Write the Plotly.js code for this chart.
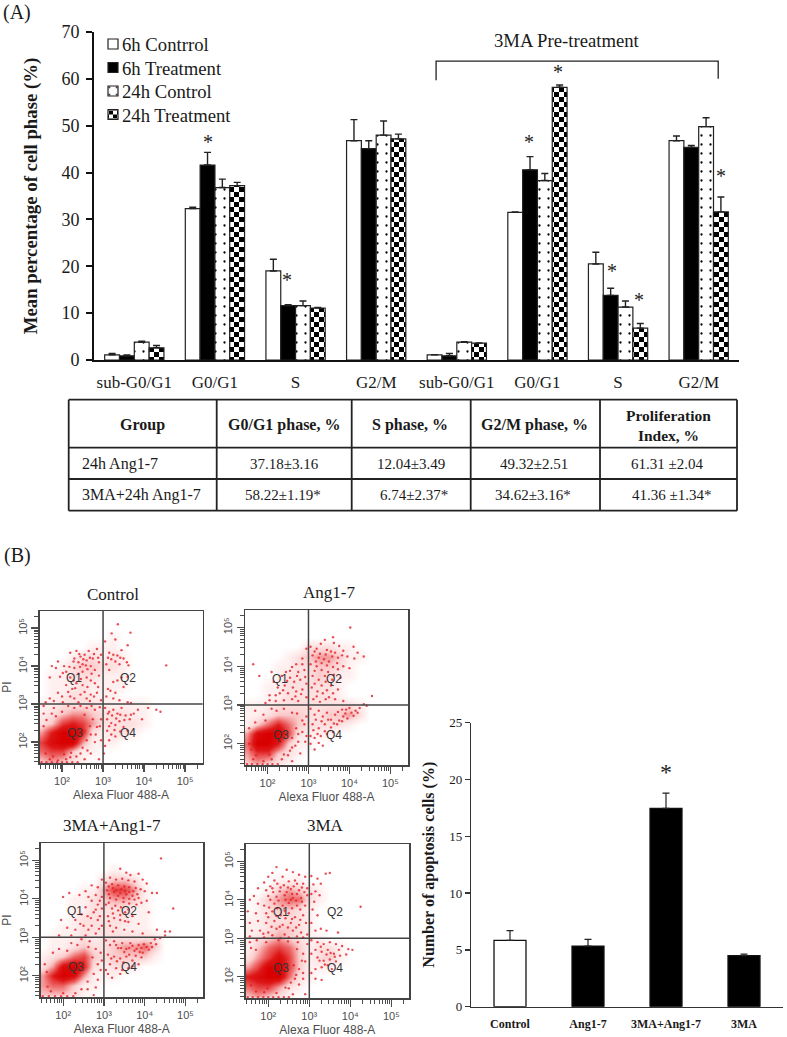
<!DOCTYPE html>
<html><head><meta charset="utf-8">
<script src="https://cdn.plot.ly/plotly-3.0.1.min.js"></script>
<style>html,body{margin:0;padding:0;background:#fff}</style></head>
<body><div id="fig" style="width:787px;height:1037px"></div>
<script>
// ---------- Panel A data ----------
const phaseLabels = ['sub-G0/G1','G0/G1','S','G2/M','sub-G0/G1','G0/G1','S','G2/M'];
const phaseIdx = [0,1,2,3,4,5,6,7];
const seriesNames = ['6h Contrrol','6h Treatment','24h Control','24h Treatment'];
const ctl6  = [1.1,32.3,19.0,46.8,1.1,31.5,20.5,46.8];
const trt6  = [0.9,41.6,11.6,45.1,0.9,40.6,13.8,45.4];
const ctl24 = [3.8,36.8,11.6,48.0,3.8,38.3,11.3,49.8];
const trt24 = [2.6,37.2,11.1,47.2,3.6,58.2,6.8,31.6];
const errCtl6  = [0.3,0.3,2.5,4.5,0.05,0.1,2.5,1.0];
const errTrt6  = [0.2,2.7,0.2,1.7,0.5,2.8,1.5,0.4];
const errCtl24 = [0.2,1.8,1.0,3.0,0.1,1.5,1.3,1.9];
const errTrt24 = [0.5,0.7,0.1,1.0,0.05,0.5,1.0,3.2];
const starX = [0.914,1.894,4.897,5.257,5.927,6.262,7.28];
const starY = [47.1,17.7,47.1,62.0,19.6,13.4,39.9];
const bracketX = [3.743,3.743,7.242,7.242];
const bracketY = [59.7,63.8,63.8,60.0];
// ---------- Table ----------
const tableHead = ['Group','G0/G1 phase, %','S phase, %','G2/M phase, %','Proliferation<br>Index, %'];
const colGroup = ['24h Ang1-7','3MA+24h Ang1-7'];
const colG0 = ['37.18±3.16','58.22±1.19*'];
const colS = ['12.04±3.49','6.74±2.37*'];
const colG2 = ['49.32±2.51','34.62±3.16*'];
const colProlif = ['61.31 ±2.04','41.36 ±1.34*'];
// ---------- Panel B bars ----------
const apoLabels = ['Control','Ang1-7','3MA+Ang1-7','3MA'];
const apoVals = [5.84,5.34,17.46,4.5];
const apoErr = [0.86,0.59,1.34,0.12];
const apoFill = ['#ffffff','#000000','#000000','#000000'];
// ---------- Flow cytometry (log10 units) ----------
const gridX = [1.5,1.75,2,2.25,2.5,2.75,3,3.25,3.5,3.75,4,4.25,4.5];
const gridY = [1.5,1.75,2,2.25,2.5,2.75,3,3.25,3.5,3.75,4,4.25,4.5,4.75,5];
const densCtrl = [[3,4,3,2,1,0,0,0,0,0,0,0,0],[5,6,6,3,1,1,0,0,0,0,0,0,0],[6,8,9,9,4,1,1,1,0,0,0,0,0],[4,7,9,9,7,2,1,2,2,1,0,0,0],[2,3,6,7,6,4,2,2,2,2,1,0,0],[1,2,3,4,4,3,2,2,2,1,1,0,0],[1,1,2,2,2,2,1,1,1,1,1,0,0],[0,1,1,2,2,1,1,1,0,0,0,0,0],[0,1,1,1,2,1,1,1,1,0,0,0,0],[0,1,1,2,2,2,1,1,1,0,0,0,0],[0,0,1,2,3,3,2,2,1,0,0,0,0],[0,0,0,1,2,2,1,2,1,0,0,0,0],[0,0,0,0,0,1,1,1,0,0,0,0,0],[0,0,0,0,0,0,0,1,0,0,0,0,0],[0,0,0,0,0,0,0,0,0,0,0,0,0]];
const densAng = [[3,4,3,2,1,0,0,0,0,0,0,0,0],[4,6,6,3,2,1,0,0,0,0,0,0,0],[5,9,9,7,3,1,1,0,0,0,0,0,0],[4,8,9,9,6,2,1,1,1,0,0,0,0],[1,3,5,7,5,3,2,2,2,2,1,0,0],[1,1,2,3,3,3,2,2,3,3,4,2,0],[1,1,1,2,2,2,2,2,2,2,2,1,0],[0,0,1,1,2,2,2,2,2,1,0,0,0],[0,0,1,1,2,2,2,2,2,1,0,0,0],[0,0,0,1,2,2,2,3,2,1,1,0,0],[0,0,0,1,1,2,2,3,3,2,1,0,0],[0,0,0,0,1,2,3,4,4,3,1,1,0],[0,0,0,0,0,0,2,2,2,1,1,0,0],[0,0,0,0,0,0,0,0,0,0,0,0,0],[0,0,0,0,0,0,0,0,0,0,0,0,0]];
const densCombo = [[3,3,3,2,1,0,0,0,0,0,0,0,0],[4,5,5,3,1,1,0,0,0,0,0,0,0],[4,7,9,8,4,1,1,1,0,0,0,0,0],[2,4,8,9,7,2,1,2,2,1,0,0,0],[1,2,3,5,6,3,2,3,3,3,3,1,0],[0,1,1,2,3,2,2,3,4,4,5,3,0],[0,1,1,1,2,1,2,2,2,2,2,2,0],[0,0,1,1,2,2,2,2,1,1,1,0,0],[0,0,0,1,2,2,2,2,2,1,1,0,0],[0,0,0,1,1,2,2,2,2,1,1,0,0],[0,0,0,1,1,2,3,4,4,3,1,0,0],[0,0,0,0,1,1,4,6,6,4,1,0,0],[0,0,0,0,0,0,2,3,3,2,0,0,0],[0,0,0,0,0,0,0,1,0,0,0,0,0],[0,0,0,0,0,0,0,0,0,0,0,0,0]];
const dens3MA = [[3,4,3,2,1,0,0,0,0,0,0,0,0],[5,6,6,4,2,1,0,0,0,0,0,0,0],[7,8,9,9,5,2,1,0,0,0,0,0,0],[4,6,9,9,6,3,1,1,1,0,0,0,0],[2,4,6,8,6,3,1,2,3,1,0,0,0],[1,3,5,6,5,3,1,2,2,1,0,0,0],[1,2,3,4,3,2,1,1,0,0,0,0,0],[1,1,2,3,3,2,1,0,0,0,0,0,0],[1,1,2,2,2,2,1,0,0,0,0,0,0],[0,1,2,3,3,2,1,0,0,0,0,0,0],[0,1,3,4,5,5,2,1,0,0,0,0,0],[0,0,1,3,4,3,2,1,0,0,0,0,0],[0,0,0,1,1,1,0,0,0,0,0,0,0],[0,0,0,0,0,0,0,0,0,0,0,0,0],[0,0,0,0,0,0,0,0,0,0,0,0,0]];
const ptsCtrl = [[3.36,5.1],[3.67,4.88],[3.21,4.86],[3.3,4.7],[3.05,4.65],[3.6,4.55],[3.45,4.42],[3.15,4.35],[3.25,4.3],[3.35,4.28],[3.42,4.22],[3.5,4.2],[3.12,4.22],[3.2,4.18],[3.3,4.12],[3.58,4.1],[3.62,4.02],[3.4,4.05],[3.08,4.05],[4.54,4.02],[3.15,3.9],[3.35,3.62],[3.45,3.7],[3.6,3.72],[3.25,3.58],[3.12,3.4],[3.18,3.35],[3.3,3.3],[3.5,3.45],[3.08,3.2],[3.25,3.15],[3.4,3.1],[3.6,3.05],[3.68,3.03],[1.75,4.0],[1.85,3.95],[1.7,3.7],[1.95,3.72],[2.05,4.0],[2.1,3.85],[2.2,4.35],[2.3,4.2],[2.35,4.4],[2.4,4.1],[2.45,4.25],[2.5,4.05],[2.55,4.3],[2.6,4.15],[2.65,4.4],[2.7,4.0],[2.75,4.2],[2.8,3.9],[2.85,4.45],[2.9,4.1],[2.95,4.3],[2.5,3.85],[2.4,3.8],[2.3,3.95],[2.6,3.7],[2.72,3.8],[2.9,3.75],[2.2,3.7],[2.1,3.5],[2.25,3.4],[2.35,3.55],[2.5,3.5],[2.62,3.45],[2.8,3.55],[1.9,3.3],[2.0,3.2],[2.2,3.2],[2.3,3.15],[2.45,3.25],[2.6,3.15],[2.7,3.25],[2.85,3.3],[2.95,3.1],[1.7,3.15],[1.6,3.05],[3.05,2.9],[3.15,2.8],[3.25,2.85],[3.35,2.75],[3.45,2.9],[3.55,2.7],[3.65,2.6],[3.75,2.75],[3.85,2.85],[3.95,2.6],[4.1,2.9],[4.3,2.85],[4.4,2.8],[3.1,2.6],[3.2,2.5],[3.3,2.45],[3.4,2.55],[3.5,2.4],[3.6,2.3],[3.1,2.3],[3.2,2.2],[3.3,2.15],[3.15,2.05],[3.05,1.9],[3.02,1.7],[2.95,2.6],[2.85,2.4],[2.7,2.2],[2.6,2.05],[2.8,2.0],[2.5,1.85],[2.45,1.7],[2.7,1.7],[2.9,1.55],[2.2,1.6],[2.1,1.55],[1.9,1.52],[1.7,1.55],[1.6,1.7],[2.0,2.8],[1.8,2.9],[1.55,2.75],[2.3,2.9],[2.6,2.9],[2.8,2.85],[1.5,1.47],[1.62,1.47],[1.75,1.47],[1.88,1.47],[2.0,1.47],[2.12,1.47],[2.25,1.47],[2.38,1.47],
 [2.28,4.12],[2.42,4.32],[2.52,4.18],[2.58,4.02],[2.68,4.22],[2.78,4.32],[2.88,4.22],[2.62,3.92],[2.44,3.98],[2.18,3.98],[2.02,3.82],[1.9,4.12],[2.28,3.62],[2.46,3.66],[2.7,3.62],[2.88,3.45],[2.15,3.32],[2.32,3.42],[2.55,3.32],[2.78,3.2],[2.02,3.05],[2.4,3.05],[2.68,3.08],[1.8,3.08],[3.22,2.7],[3.32,2.62],[3.42,2.72],[3.52,2.58],[3.68,2.72],[3.15,2.42],[3.28,2.32],[3.42,2.28],[3.12,2.75],[1.55,2.95],[1.75,2.75],[2.15,2.95],[2.45,2.95],[2.72,2.95],[2.92,2.92],[2.55,2.72],[2.75,2.6],[2.92,2.42],[2.68,2.42],[2.55,2.3],[2.82,2.2],[2.95,2.05],[2.62,1.78],[2.35,1.62],[2.55,1.55],[1.85,2.68],[1.62,2.58],[1.55,2.42],[2.05,1.68],[2.22,1.72],[1.78,1.62]];
const ptsAng = [[4.02,5.0],[3.6,4.75],[3.4,4.68],[3.62,4.6],[3.3,4.58],[3.75,4.52],[3.05,4.5],[3.2,4.45],[3.45,4.42],[3.55,4.38],[3.65,4.35],[3.85,4.4],[4.1,4.5],[4.2,4.35],[4.35,4.25],[4.12,4.2],[3.95,4.25],[3.1,4.28],[3.25,4.22],[3.38,4.18],[3.5,4.12],[3.7,4.08],[3.85,4.0],[4.0,3.95],[3.05,4.05],[3.2,4.0],[3.32,3.9],[3.48,3.85],[3.62,3.78],[3.78,3.7],[3.1,3.75],[3.25,3.65],[3.42,3.6],[3.55,3.5],[3.72,3.4],[3.08,3.45],[3.22,3.35],[3.35,3.3],[3.5,3.2],[3.65,3.15],[3.85,3.1],[3.12,3.15],[3.28,3.08],[4.55,3.23],[2.95,4.45],[2.85,4.2],[2.7,4.05],[2.6,3.98],[2.45,3.85],[2.35,3.75],[2.75,3.85],[2.9,3.9],[2.55,3.7],[2.65,3.6],[2.8,3.65],[2.95,3.55],[2.42,3.5],[2.25,3.45],[2.15,3.6],[1.65,4.05],[1.8,3.75],[2.1,3.85],[2.05,3.25],[2.3,3.3],[2.5,3.3],[2.7,3.35],[2.85,3.4],[2.95,3.2],[2.6,3.15],[2.4,3.12],[2.2,3.1],[1.95,3.05],[2.75,3.1],[3.05,2.9],[3.15,2.75],[3.25,2.85],[3.35,2.7],[3.45,2.8],[3.55,2.62],[3.65,2.75],[3.75,2.6],[3.85,2.7],[3.95,2.65],[4.05,2.8],[4.15,2.85],[4.25,2.92],[4.35,3.02],[4.42,2.98],[3.9,2.78],[3.7,2.5],[3.55,2.42],[3.4,2.5],[3.25,2.4],[3.1,2.5],[3.3,2.2],[3.45,2.25],[3.6,2.3],[3.15,2.15],[3.05,2.2],[3.25,2.02],[3.35,1.95],[3.15,1.85],[3.05,2.0],[2.95,2.7],[2.85,2.6],[2.7,2.4],[2.6,2.15],[2.85,2.3],[2.95,2.2],[2.75,2.05],[2.6,1.9],[2.8,1.75],[2.5,1.7],[2.35,1.6],[2.6,1.55],[2.1,1.6],[1.9,1.55],[1.65,1.6],[1.55,2.0],[1.9,2.75],[1.7,2.85],[2.1,2.9],[2.4,2.9],[2.6,2.8],[1.5,1.47],[1.62,1.47],[1.75,1.47],[1.88,1.47],[2.0,1.47],[2.12,1.47],[2.25,1.47],
 [3.15,4.38],[3.28,4.32],[3.42,4.3],[3.58,4.25],[3.72,4.22],[3.82,4.28],[3.18,4.12],[3.32,4.08],[3.45,4.02],[3.6,3.98],[3.72,3.92],[3.15,3.88],[3.4,3.75],[3.58,3.65],[3.15,3.55],[3.32,3.5],[3.45,3.38],[3.6,3.3],[3.2,3.22],[3.42,3.15],[2.85,4.05],[2.72,3.75],[2.48,3.62],[2.62,3.45],[2.82,3.28],[2.92,3.72],[2.55,3.88],[2.38,3.38],[2.2,3.25],[2.68,3.22],[2.05,3.12],[3.72,2.82],[3.82,2.88],[3.92,2.88],[4.0,2.92],[4.1,2.72],[4.2,2.8],[3.82,2.58],[3.62,2.52],[3.48,2.62],[3.32,2.58],[3.18,2.62],[3.4,2.32],[3.22,2.25],[3.12,2.35],[2.9,2.5],[2.75,2.25],[2.92,2.05],[2.68,1.95],[2.55,1.82],[2.4,1.72],[1.95,2.6],[1.7,2.55],[1.55,2.4],[1.6,1.85],[1.72,1.7],[2.05,1.72],[2.22,2.85],[2.72,2.78]];
const ptsCombo = [[4.4,5.05],[3.4,4.78],[3.55,4.68],[3.85,4.65],[3.65,4.62],[3.15,4.55],[3.3,4.5],[3.45,4.52],[3.6,4.48],[3.75,4.45],[3.95,4.5],[4.05,4.4],[3.05,4.42],[3.2,4.38],[3.35,4.35],[3.5,4.32],[3.62,4.3],[3.78,4.28],[3.9,4.25],[4.0,4.2],[4.18,4.15],[4.3,4.15],[3.08,4.22],[3.25,4.18],[3.4,4.15],[3.55,4.12],[3.7,4.08],[3.85,4.02],[4.05,3.95],[3.15,4.02],[3.3,3.98],[3.48,3.92],[3.62,3.88],[3.8,3.85],[3.05,3.85],[3.2,3.75],[3.35,3.7],[3.52,3.65],[3.7,3.55],[4.1,3.65],[4.7,3.75],[3.1,3.55],[3.25,3.5],[3.4,3.45],[3.6,3.4],[3.85,3.35],[3.15,3.3],[3.3,3.25],[3.5,3.2],[3.7,3.15],[3.95,3.1],[4.3,3.2],[4.5,3.15],[4.62,3.15],[2.95,4.5],[2.85,4.3],[2.7,4.35],[2.55,4.2],[2.4,4.1],[2.15,4.15],[2.0,4.05],[2.8,4.1],[2.95,4.05],[2.7,3.95],[2.85,3.85],[2.95,3.75],[2.75,3.65],[2.6,3.55],[2.45,3.6],[2.3,3.45],[2.85,3.45],[2.95,3.3],[2.7,3.3],[2.5,3.3],[2.3,3.2],[2.1,3.25],[1.95,3.45],[1.9,3.05],[2.2,3.05],[2.55,3.05],[2.8,3.1],[3.05,2.92],[3.15,2.8],[3.25,2.9],[3.35,2.72],[3.45,2.85],[3.55,2.7],[3.65,2.85],[3.75,2.65],[3.85,2.8],[3.95,2.6],[4.05,2.75],[4.15,2.85],[4.25,2.95],[4.38,2.98],[4.5,3.05],[3.1,2.55],[3.25,2.5],[3.4,2.45],[3.55,2.5],[3.7,2.4],[3.85,2.3],[3.15,2.3],[3.3,2.2],[3.45,2.15],[3.6,2.2],[3.1,2.05],[3.2,1.95],[3.05,2.15],[2.95,2.4],[2.8,2.7],[2.65,2.9],[2.45,2.95],[2.2,2.85],[2.85,2.3],[2.75,2.05],[2.6,1.85],[2.8,1.7],[2.45,1.65],[2.3,1.55],[2.75,1.5],[2.0,1.55],[1.7,1.6],[1.55,2.3],[1.75,2.6],[1.5,1.47],[1.65,1.47],[1.8,1.47],[1.95,1.47],[2.1,1.47],[2.25,1.47],
 [3.12,4.32],[3.22,4.28],[3.3,4.22],[3.42,4.25],[3.52,4.2],[3.62,4.18],[3.72,4.2],[3.82,4.12],[3.12,4.12],[3.35,4.08],[3.48,4.02],[3.62,4.0],[3.75,3.98],[3.92,3.9],[3.12,3.9],[3.28,3.82],[3.42,3.78],[3.6,3.72],[3.22,3.62],[3.4,3.58],[3.12,3.42],[3.52,3.42],[3.22,3.15],[2.62,4.05],[2.9,3.95],[2.8,3.72],[2.55,3.78],[2.68,3.5],[2.9,3.55],[2.42,3.35],[2.62,3.2],[2.88,3.22],[3.3,2.8],[3.42,2.72],[3.5,2.62],[3.62,2.72],[3.7,2.78],[3.8,2.7],[3.88,2.62],[3.92,2.72],[3.98,2.82],[4.1,2.68],[4.18,2.75],[4.28,2.82],[3.62,2.55],[3.78,2.52],[3.92,2.48],[3.48,2.35],[3.32,2.38],[3.18,2.45],[3.7,2.25],[3.4,2.05],[2.92,2.6],[2.72,2.48],[2.62,2.75],[2.92,2.15],[2.85,1.9],[2.6,1.65],[1.9,2.7],[1.6,2.1],[1.62,1.72],[2.1,2.65],[2.35,2.8]];
const pts3MA = [[2.2,4.85],[2.45,4.78],[2.1,4.7],[2.6,4.72],[2.75,4.65],[2.0,4.6],[2.35,4.6],[2.9,4.6],[1.9,4.45],[2.15,4.5],[2.5,4.48],[2.65,4.5],[2.85,4.42],[3.05,4.62],[3.2,4.55],[3.4,4.68],[3.5,4.7],[3.28,4.42],[3.1,4.4],[3.15,4.22],[3.05,4.15],[3.25,4.12],[3.12,3.95],[3.08,3.75],[3.2,3.6],[4.25,3.82],[3.05,3.4],[3.28,3.25],[3.42,3.2],[3.7,3.15],[3.15,3.2],[1.75,4.3],[1.65,4.1],[1.95,4.25],[2.1,4.3],[2.3,4.32],[2.55,4.28],[2.75,4.25],[2.95,4.3],[2.0,4.1],[2.2,4.08],[2.4,4.12],[2.6,4.05],[2.8,4.05],[2.95,4.12],[1.55,4.0],[1.75,3.9],[1.9,3.85],[2.15,3.9],[2.35,3.85],[2.5,3.92],[2.7,3.85],[2.9,3.85],[1.5,3.7],[1.7,3.65],[1.95,3.65],[2.1,3.7],[2.3,3.6],[2.5,3.65],[2.65,3.55],[2.85,3.6],[1.55,3.4],[1.75,3.45],[1.95,3.4],[2.15,3.45],[2.35,3.35],[2.55,3.4],[2.75,3.35],[2.92,3.4],[1.6,3.2],[1.8,3.2],[2.0,3.15],[2.2,3.25],[2.4,3.1],[2.6,3.2],[2.8,3.15],[2.95,3.1],[1.55,3.05],[1.9,3.02],[2.3,3.0],[2.7,3.05],[3.05,2.95],[3.2,2.9],[3.35,2.85],[3.5,2.9],[3.65,2.85],[3.8,2.8],[3.95,2.72],[4.05,2.7],[3.15,2.7],[3.3,2.65],[3.45,2.7],[3.6,2.6],[3.75,2.55],[3.9,2.58],[3.2,2.5],[3.35,2.42],[3.5,2.45],[3.65,2.4],[3.3,2.25],[3.45,2.3],[3.55,2.2],[3.15,2.2],[3.05,2.6],[3.05,2.1],[3.15,1.95],[3.3,1.92],[2.95,2.85],[2.85,2.6],[2.9,2.4],[2.75,2.2],[2.85,2.1],[2.65,1.95],[2.75,1.8],[2.5,1.7],[2.9,1.55],[2.6,1.55],[2.2,1.58],[1.9,1.6],[1.55,2.9],[1.7,2.7],[1.5,1.47],[1.62,1.47],[1.75,1.47],[1.88,1.47],[2.0,1.47],[2.12,1.47],[2.25,1.47],[2.38,1.47],[2.5,1.47],
 [2.05,4.35],[2.22,4.42],[2.38,4.38],[2.48,4.32],[2.62,4.35],[2.7,4.42],[2.82,4.32],[2.12,4.2],[2.28,4.22],[2.45,4.2],[2.58,4.15],[2.7,4.15],[2.88,4.2],[2.05,4.0],[2.25,3.98],[2.42,4.0],[2.55,4.0],[2.68,3.98],[2.82,3.95],[2.02,3.8],[2.22,3.78],[2.4,3.72],[2.58,3.78],[2.78,3.75],[2.0,3.55],[2.2,3.58],[2.42,3.52],[2.58,3.5],[2.78,3.48],[2.08,3.3],[2.28,3.3],[2.48,3.28],[2.68,3.28],[1.88,3.12],[2.1,3.08],[2.5,3.02],[2.85,3.02],[2.25,2.95],[2.48,2.92],[2.72,2.9],[1.95,2.9],[1.72,2.95],[1.58,2.75],[2.7,2.72],[2.82,2.42],[2.62,2.3],[2.68,2.05],[2.55,1.85],[2.42,1.72],[2.85,1.95],[1.98,1.7],[1.7,1.62],[1.58,1.78],[3.28,2.78],[3.42,2.58],[3.52,2.62],[3.62,2.52],[3.38,2.32],[3.25,2.42],[3.72,2.7]];
const flowTitles = ['Control','Ang1-7','3MA+Ang1-7','3MA'];
const flowDens = [densCtrl,densAng,densCombo,dens3MA];
const flowPts = [ptsCtrl,ptsAng,ptsCombo,pts3MA];
const quadLabels = ['Q1','Q2','Q3','Q4'];
const quadX = [2.3,3.62,2.32,3.62];
const quadY = [3.68,3.68,2.23,2.23];
const flowTickVals = [2,3,4,5];
const flowTickText = ['10²','10³','10⁴','10⁵'];
const decadeSteps = [0.3,0.48,0.6,0.7,0.78,0.85,0.9,0.95];

// ---------- layout helpers ----------
const W=787,H=1037;
const SERIF='"Liberation Serif","Times New Roman",serif', SANS='"Liberation Sans",Arial,sans-serif';
const dx=(a,b)=>[a/W,b/W], dy=(top,bot)=>[1-bot/H,1-top/H];
const DARK='#1a1a1a';
const layout={width:W,height:H,margin:{l:0,r:0,t:0,b:0},paper_bgcolor:'#fff',plot_bgcolor:'rgba(0,0,0,0)',
  barmode:'group',bargroupgap:0,hovermode:false,annotations:[],shapes:[],
  showlegend:true,
  legend:{x:93/W,y:1-32/H,xanchor:'left',yanchor:'top',bgcolor:'rgba(0,0,0,0)',font:{family:SERIF,size:18.7,color:DARK},tracegroupgap:0,itemclick:false,itemdoubleclick:false}};
layout.xaxis={domain:dx(94,739),anchor:'y',range:[-0.5,7.5],tickmode:'array',tickvals:phaseIdx,ticktext:phaseLabels,ticks:'',ticklabelstandoff:6,showline:true,linewidth:2,linecolor:'#111',showgrid:false,zeroline:false,tickfont:{family:SERIF,size:17,color:DARK}};
layout.yaxis={domain:dy(32,360),anchor:'x',range:[0,70],dtick:10,ticks:'outside',ticklen:6,tickwidth:2,tickcolor:'#111',ticklabelstandoff:3,showline:true,linewidth:2,linecolor:'#111',showgrid:false,zeroline:false,tickfont:{family:SERIF,size:18,color:DARK},
  title:{text:'<b>Mean percentage of cell phase (%)</b>',font:{family:SERIF,size:18.8,color:DARK},standoff:19}};
const traces=[];
const patt=[{shape:''},{shape:''},{shape:'.',size:9,solidity:0.05,fgcolor:'#000',bgcolor:'#fff'},{shape:'+',size:10,solidity:0.5,fgcolor:'#000',bgcolor:'#fff'}];
const fills=['#fff','#000','#fff','#fff'];
[[ctl6,errCtl6],[trt6,errTrt6],[ctl24,errCtl24],[trt24,errTrt24]].forEach((s,i)=>{
  traces.push({type:'bar',name:seriesNames[i],x:phaseIdx,y:s[0],xaxis:'x',yaxis:'y',
    marker:{color:fills[i],pattern:patt[i],line:{color:'#222',width:1.2}},
    error_y:{type:'data',array:s[1],arrayminus:phaseIdx.map(()=>0),symmetric:false,color:'#222',thickness:1.4,width:3.5}});
});
layout.bargap=0.265;
starX.forEach((x,i)=>layout.annotations.push({xref:'x',yref:'y',x:x,y:starY[i],yshift:-3,text:'*',showarrow:false,font:{family:SERIF,size:20,color:'#222'}}));
layout.shapes.push({type:'path',xref:'x',yref:'y',path:bracketX.map((x,i)=>(i?'L':'M')+x+','+bracketY[i]).join(' '),line:{color:'#222',width:1.3}});
const txt=(text,px,py,size,extra)=>layout.annotations.push(Object.assign({xref:'paper',yref:'paper',x:px/W,y:1-py/H,xanchor:'center',yanchor:'middle',text:text,showarrow:false,font:{family:SERIF,size:size,color:DARK}},extra||{}));
txt('3MA Pre-treatment',567,41,18.7);
txt('(A)',17,12,20);
txt('(B)',17,555,20);

// table: ruled grid and cell texts placed on the page
const tblCols=[68.7,216.7,351.7,470.7,600,737], tblRows=[399.7,447.7,479,510.7];
tblCols.forEach(c=>layout.shapes.push({type:'line',xref:'paper',yref:'paper',x0:c/W,x1:c/W,y0:1-tblRows[0]/H,y1:1-tblRows[3]/H,line:{color:'#222',width:1.8}}));
tblRows.forEach(r=>layout.shapes.push({type:'line',xref:'paper',yref:'paper',x0:tblCols[0]/W,x1:tblCols[5]/W,y0:1-r/H,y1:1-r/H,line:{color:'#222',width:1.8}}));
const headX=[142.7,284,410,534,668];
tableHead.forEach((t,i)=>txt('<b>'+t+'</b>',headX[i],425,i===4?15.5:16,{align:'center'}));
const rowY=[464,495];
const cellX=[[284,282.7],[410.7,414],[534,532.7],[667,671.7]];
colGroup.forEach((t,r)=>txt(t,80,rowY[r],16,{xanchor:'left'}));
[colG0,colS,colG2,colProlif].forEach((col,c)=>col.forEach((t,r)=>txt(t,cellX[c][r],rowY[r],15)));

// flow panels
const frames=[[39.5,202.7,611,763],[245,408,610,765],[40.7,203,843,997],[245.7,409,844,998]];
const titlePos=[[113,594],[329,592],[112,825],[325,825]];
const minorVals=[];[1,2,3,4,5].forEach(d=>decadeSteps.forEach(s=>{if(d+s>1.45&&d+s<5.43)minorVals.push(+(d+s).toFixed(2));}));
const flowScale=[[0,'#ffffff'],[0.11,'#fff0f0'],[0.22,'#fde0e0'],[0.33,'#fbcccc'],[0.55,'#ee6868'],[0.78,'#de1818'],[1,'#d80000']];
frames.forEach((f,i)=>{
  const n=i+2, xa='xaxis'+n, ya='yaxis'+n, xr='x'+n, yr='y'+n;
  const gray='#4d4d4d';
  layout[xa]={domain:dx(f[0],f[1]),anchor:yr,range:[1.45,5.43],tickmode:'array',tickvals:flowTickVals,ticktext:flowTickText,ticks:'outside',ticklen:7,tickwidth:1.2,tickcolor:gray,
    minor:{tickmode:'array',tickvals:minorVals,ticks:'outside',ticklen:4,tickwidth:1,tickcolor:gray,showgrid:false},
    showline:true,mirror:true,linewidth:1.5,linecolor:'#444',showgrid:false,zeroline:false,tickfont:{family:SANS,size:11,color:gray},
    title:{text:'Alexa Fluor 488-A',font:{family:SANS,size:12,color:gray},standoff:5}};
  layout[ya]={domain:dy(f[2],f[3]),anchor:xr,range:[1.45,5.45],tickmode:'array',tickvals:flowTickVals,ticktext:flowTickText,tickangle:-90,ticks:'outside',ticklen:7,tickwidth:1.2,tickcolor:gray,
    minor:{tickmode:'array',tickvals:minorVals,ticks:'outside',ticklen:4,tickwidth:1,tickcolor:gray,showgrid:false},
    showline:true,mirror:true,linewidth:1.5,linecolor:'#444',showgrid:false,zeroline:false,tickfont:{family:SANS,size:11,color:gray},
    title:i%2===0?{text:'PI',font:{family:SANS,size:12,color:gray},standoff:3}:{text:''}};
  traces.push({type:'heatmap',x:gridX,y:gridY,z:flowDens[i],xaxis:xr,yaxis:yr,zmin:0,zmax:9,zsmooth:'best',colorscale:flowScale,showscale:false,showlegend:false,hoverinfo:'skip'});
  traces.push({type:'scatter',mode:'markers',x:flowPts[i].map(p=>p[0]),y:flowPts[i].map(p=>p[1]),xaxis:xr,yaxis:yr,showlegend:false,marker:{size:2.4,color:'#e3212b',opacity:0.8,line:{width:0}}});
  layout.shapes.push({type:'line',xref:xr,yref:yr+' domain',x0:3,x1:3,y0:0,y1:1,line:{color:'#444',width:1.5}});
  layout.shapes.push({type:'line',xref:xr+' domain',yref:yr,x0:0,x1:1,y0:3,y1:3,line:{color:'#444',width:1.5}});
  quadLabels.forEach((q,k)=>layout.annotations.push({xref:xr,yref:yr,x:quadX[k],y:quadY[k],text:q,showarrow:false,font:{family:SANS,size:12,color:'#333'}}));
  txt(flowTitles[i],titlePos[i][0],titlePos[i][1],17);
});

// apoptosis bars
layout.xaxis6={domain:dx(471,783),anchor:'y6',type:'category',categoryorder:'array',categoryarray:apoLabels,range:[-0.5,3.5],ticks:'',ticklabelstandoff:6,showline:true,linewidth:1.2,linecolor:'#333',showgrid:false,zeroline:false,
  tickmode:'array',tickvals:apoLabels,ticktext:apoLabels.map(t=>'<b>'+t+'</b>'),tickfont:{family:SERIF,size:12,color:DARK}};
layout.yaxis6={domain:dy(722.7,1006.7),anchor:'x6',range:[0,25],dtick:5,ticks:'outside',ticklen:5,tickwidth:1.2,tickcolor:'#333',showline:true,linewidth:1.2,linecolor:'#333',showgrid:false,zeroline:false,tickfont:{family:SERIF,size:13,color:DARK},
  title:{text:'<b>Number of apoptosis cells (%)</b>',font:{family:SERIF,size:16,color:DARK},standoff:10}};
traces.push({type:'bar',x:apoLabels,y:apoVals,xaxis:'x6',yaxis:'y6',width:0.41,showlegend:false,marker:{color:apoFill,line:{color:'#111',width:1.3}},
  error_y:{type:'data',array:apoErr,arrayminus:apoErr.map(()=>0),symmetric:false,color:'#222',thickness:1.2,width:3.5}});
layout.annotations.push({xref:'x6',yref:'y6',x:'3MA+Ang1-7',y:20.9,yshift:-3,text:'*',showarrow:false,font:{family:SERIF,size:24,color:'#222'}});

Plotly.newPlot('fig',traces,layout,{staticPlot:true,displayModeBar:false}).then(()=>{
  // checkerboard tile for the 24h Treatment bars
  document.querySelectorAll('pattern path').forEach(p=>{
    p.setAttribute('d','M0,0H5V5H0Z M5,5H10V10H5Z');
    p.style.fill='#000';p.style.stroke='none';
  });
  // legend: tighter rows, 10px swatches and text close to them, as in the figure
  document.querySelectorAll('.legend g.traces').forEach((g,i)=>{
    g.setAttribute('transform','translate(0,'+(12+23.5*i)+')');
    const t=g.querySelector('text.legendtext');if(t)t.setAttribute('x',29);
    g.querySelectorAll('path.legendundefined,path.legendbar').forEach(p=>p.setAttribute('d','M5,5H-5V-5H5Z'));
  });
});
</script></body></html>
